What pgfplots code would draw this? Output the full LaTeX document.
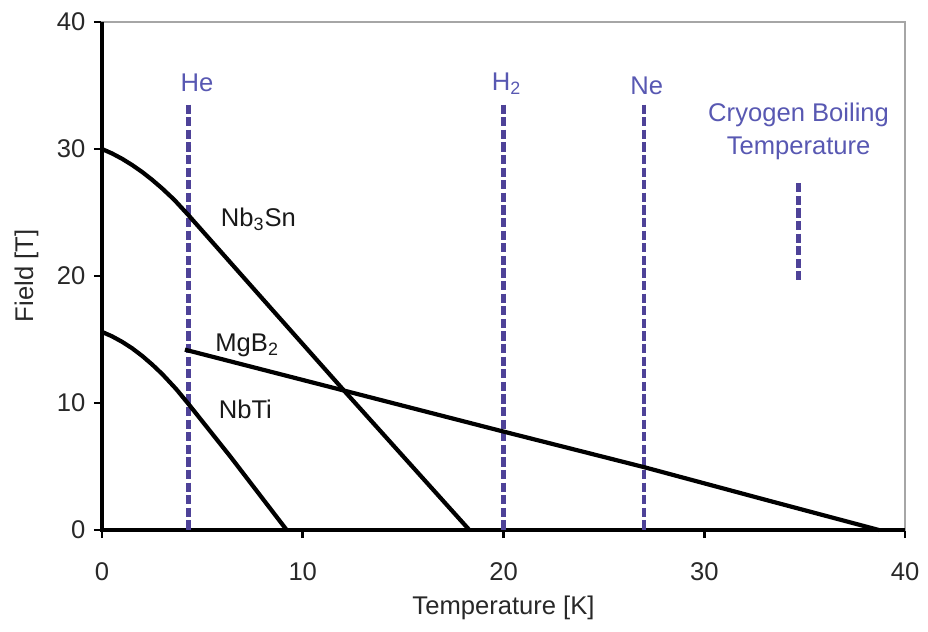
\documentclass[border=0pt]{standalone}
\usepackage{fontspec}
\setmainfont{Liberation Sans}
\usepackage{pgfplots}
\pgfplotsset{compat=1.18}
\definecolor{cryo}{RGB}{78,66,152}
\definecolor{cryotext}{RGB}{88,88,178}
\definecolor{ink}{RGB}{40,40,40}
\begin{document}
\fontsize{12.5}{15}\selectfont
\begin{tikzpicture}
\begin{axis}[
  scale only axis, width=401.5pt, height=254pt,
  xmin=0, xmax=40, ymin=0, ymax=40,
  xtick={0,10,20,30,40}, ytick={0,10,20,30,40},
  xtick pos=bottom, ytick pos=left,
  tick align=outside, major tick length=4pt,
  every tick/.style={black, line width=1.4pt},
  axis line style={gray!70, line width=0.6pt},
  /pgf/number format/assume math mode=true,
  tick label style={font=\fontsize{12.8}{15}\selectfont, text=ink},
  xticklabel style={yshift=-8pt},
  xlabel={Temperature [K]}, ylabel={Field [T]},
  label style={font=\fontsize{12.8}{15}\selectfont, text=ink},
  xlabel style={at={(axis description cs:0.5,-0.1673)}, anchor=base},
  ylabel style={at={(axis description cs:-0.0859,0.5)}, anchor=base, rotate=0},
  clip=false,
]
\coordinate (bl) at (rel axis cs:0,0);
\coordinate (tr) at (rel axis cs:1,1);
\draw[black, line width=1.7pt] (rel axis cs:0,1) -- (rel axis cs:0,0) -- (rel axis cs:1,0);

% cryogen boiling temperatures
\addplot[cryo, line width=2.2pt, dash pattern=on 4.6pt off 1.7pt] coordinates {(4.3,33.5) (4.3,0)};
\addplot[cryo, line width=2.2pt, dash pattern=on 4.6pt off 1.7pt] coordinates {(20,33.5) (20,0)};
\addplot[cryo, line width=2.2pt, dash pattern=on 4.6pt off 1.7pt] coordinates {(27,33.5) (27,0)};
\addplot[cryo, line width=2.2pt, dash pattern=on 4.6pt off 1.7pt] coordinates {(34.7,27.3) (34.7,19.7)};

% NbTi
\addplot[black, line width=2.1pt, line join=round] coordinates {
 (0,15.6) (0.5,15.25) (1,14.82) (1.5,14.31) (2,13.71) (2.5,13.03) (3,12.28) (3.7,11.09) (4.35,9.84) (6.4,5.77) (9.2,0)};
% Nb3Sn
\addplot[black, line width=2.1pt, line join=round] coordinates {
 (0,30) (0.5,29.65) (1,29.23) (1.5,28.74) (2,28.19) (2.5,27.57) (3,26.89) (3.6,26.0) (4.3,24.8) (8,18.2) (12.1,10.9) (18.3,0)};
% MgB2
\addplot[black, line width=2.1pt, line join=round] coordinates {
 (4.13,14.2) (20,7.75) (27,4.95) (33,2.4) (38.7,0)};

\node[anchor=base west, text=black!90, inner sep=0pt, font=\fontsize{12.8}{15}\selectfont] at (axis cs:5.9,23.9) {Nb\textsubscript{3}Sn};
\node[anchor=base west, text=black!90, inner sep=0pt, font=\fontsize{12.8}{15}\selectfont] at (axis cs:5.63,14.04) {MgB\textsubscript{2}};
\node[anchor=base west, text=black!90, inner sep=0pt, font=\fontsize{12.8}{15}\selectfont] at (axis cs:5.8,8.8) {NbTi};

\node[anchor=base west, text=cryotext, inner sep=0pt, font=\fontsize{12.8}{15}\selectfont] at (axis cs:3.9,34.5) {He};
\node[anchor=base west, text=cryotext, inner sep=0pt, font=\fontsize{12.8}{15}\selectfont] at (axis cs:19.4,34.6) {H\textsubscript{2}};
\node[anchor=base west, text=cryotext, inner sep=0pt, font=\fontsize{12.8}{15}\selectfont] at (axis cs:26.3,34.3) {Ne};
\node[anchor=base, text=cryotext, inner sep=0pt, font=\fontsize{12.8}{15}\selectfont] at (axis cs:34.7,32.2) {Cryogen Boiling};
\node[anchor=base, text=cryotext, inner sep=0pt, font=\fontsize{12.8}{15}\selectfont] at (axis cs:34.7,29.6) {Temperature};
\end{axis}
\pgfresetboundingbox
\path ([shift={(-51pt,-50.5pt)}]bl) rectangle ([shift={(11.5pt,11pt)}]tr);
\end{tikzpicture}
\end{document}
